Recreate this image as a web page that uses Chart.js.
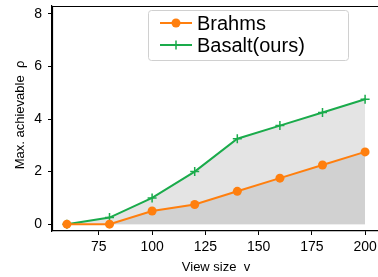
<!DOCTYPE html>
<html>
<head>
<meta charset="utf-8">
<script src="https://cdn.jsdelivr.net/npm/chart.js@4.4.0/dist/chart.umd.min.js"></script>
<style>
  html, body { margin: 0; padding: 0; background: #fff; overflow: hidden; }
  #wrap { width: 386px; height: 277px; }
</style>
</head>
<body>
<div id="wrap"><canvas id="chart" width="386" height="277"></canvas></div>
<script>
// data
const viewSizes = [60, 80, 100, 120, 140, 160, 180, 200];
const brahms = [0, 0, 0.5, 0.75, 1.25, 1.75, 2.25, 2.75];
const basalt = [0, 0.25, 1, 2, 3.25, 3.75, 4.25, 4.75];
const xTicks = [75, 100, 125, 150, 175, 200];
const yTicks = [0, 2, 4, 6, 8];
const seriesNames = ['Brahms', 'Basalt(ours)'];
const xTitle = 'View size  v';
const yTitle = 'Max. achievable  \u03c1';

const ORANGE = '#ff7f0e';
const GREEN = '#1aab4b';
const FONT = '"Liberation Sans", Arial, sans-serif';

const toPoints = (ys) => ys.map((y, i) => ({ x: viewSizes[i], y: y }));

// spines, axis titles and the matplotlib-like legend
const extras = {
  id: 'extras',
  afterDraw(chart) {
    const ctx = chart.ctx;
    const area = chart.chartArea;
    ctx.save();

    ctx.strokeStyle = '#000';
    ctx.lineWidth = 1.2;
    ctx.beginPath();
    ctx.moveTo(area.left, area.top + 0.5);
    ctx.lineTo(area.right, area.top + 0.5);
    ctx.moveTo(area.left + 0.5, area.top);
    ctx.lineTo(area.left + 0.5, area.bottom);
    ctx.stroke();

    ctx.fillStyle = '#000';
    ctx.font = '13px ' + FONT;
    ctx.textAlign = 'center';
    ctx.textBaseline = 'middle';
    ctx.fillText(xTitle, 216, 267);
    ctx.save();
    ctx.translate(20, 115);
    ctx.rotate(-Math.PI / 2);
    ctx.fillText(yTitle, 0, 0);
    ctx.restore();

    // legend box
    const bx = 148.5, by = 10.5, bw = 200, bh = 50;
    ctx.fillStyle = 'rgba(255,255,255,0.85)';
    ctx.strokeStyle = '#d0d0d0';
    ctx.lineWidth = 1;
    ctx.beginPath();
    if (ctx.roundRect) ctx.roundRect(bx, by, bw, bh, 3); else ctx.rect(bx, by, bw, bh);
    ctx.fill();
    ctx.stroke();

    const rows = [
      { name: seriesNames[0], color: ORANGE, y: 23, marker: 'circle' },
      { name: seriesNames[1], color: GREEN, y: 45, marker: 'cross' }
    ];
    rows.forEach((r) => {
      ctx.strokeStyle = r.color;
      ctx.fillStyle = r.color;
      ctx.lineWidth = 2;
      ctx.beginPath();
      ctx.moveTo(160, r.y);
      ctx.lineTo(192, r.y);
      ctx.stroke();
      if (r.marker === 'circle') {
        ctx.beginPath();
        ctx.arc(176, r.y, 4.5, 0, Math.PI * 2);
        ctx.fill();
      } else {
        ctx.lineWidth = 1.5;
        ctx.beginPath();
        ctx.moveTo(176, r.y - 4.5);
        ctx.lineTo(176, r.y + 4.5);
        ctx.moveTo(171.5, r.y);
        ctx.lineTo(180.5, r.y);
        ctx.stroke();
      }
      ctx.fillStyle = '#000';
      ctx.font = '20px ' + FONT;
      ctx.textAlign = 'left';
      ctx.textBaseline = 'middle';
      ctx.fillText(r.name, 197, r.y + 1);
    });

    ctx.restore();
  }
};

const config = {
  type: 'line',
  data: {
    datasets: [
      {
        label: seriesNames[0],
        data: toPoints(brahms),
        borderColor: ORANGE,
        backgroundColor: '#d1d1d1',
        fill: 'origin',
        borderWidth: 2,
        tension: 0,
        pointStyle: 'circle',
        pointRadius: 4.5,
        pointBackgroundColor: ORANGE,
        pointBorderColor: ORANGE,
        pointBorderWidth: 0
      },
      {
        label: seriesNames[1],
        data: toPoints(basalt),
        borderColor: GREEN,
        backgroundColor: '#e4e4e4',
        fill: 'origin',
        borderWidth: 2,
        tension: 0,
        pointStyle: 'cross',
        pointRadius: 4.5,
        pointBorderColor: GREEN,
        pointBorderWidth: 1.5
      }
    ]
  },
  options: {
    responsive: false,
    animation: false,
    layout: { padding: { top: 4, right: 4, left: 0, bottom: 0 } },
    scales: {
      x: {
        type: 'linear',
        min: 53,
        max: 207,
        afterFit: (s) => { s.height = 46; s.paddingLeft = 0; s.paddingRight = 0; },
        afterBuildTicks: (s) => { s.ticks = xTicks.map((v) => ({ value: v })); },
        grid: { drawOnChartArea: false, drawTicks: true, tickLength: 4, tickColor: '#000' },
        border: { display: true, color: '#000', width: 1.2 },
        ticks: {
          color: '#000',
          padding: 4,
          maxRotation: 0,
          font: { size: 14, family: FONT }
        }
      },
      y: {
        min: -0.26,
        max: 8.3,
        afterFit: (s) => { s.width = 52; s.paddingTop = 0; s.paddingBottom = 0; },
        afterBuildTicks: (s) => { s.ticks = yTicks.map((v) => ({ value: v })); },
        grid: { drawOnChartArea: false, drawTicks: true, tickLength: 4, tickColor: '#000' },
        border: { display: true, color: '#000', width: 1.2 },
        ticks: {
          color: '#000',
          padding: 6,
          font: { size: 14, family: FONT }
        }
      }
    },
    plugins: {
      legend: { display: false },
      tooltip: { enabled: false }
    }
  },
  plugins: [extras]
};

new Chart(document.getElementById('chart').getContext('2d'), config);
</script>
</body>
</html>
